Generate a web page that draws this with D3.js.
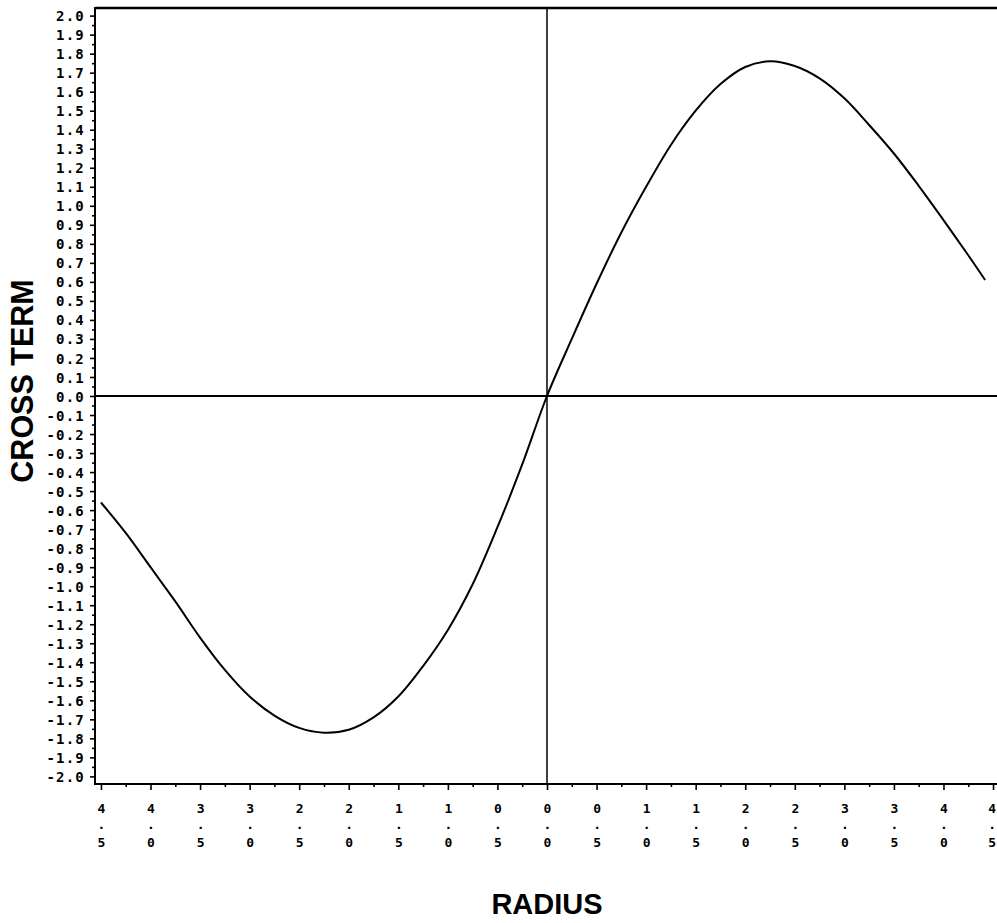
<!DOCTYPE html>
<html>
<head>
<meta charset="utf-8">
<script src="https://cdn.jsdelivr.net/npm/d3@7/dist/d3.min.js"></script>
<style>
  body { margin: 0; background: #fff; }
  .tick text { font-family: "DejaVu Sans Mono", monospace; font-weight: bold; font-size: 14px; fill: #000; }
  .axisTitle { font-family: "Liberation Sans", Arial, sans-serif; font-weight: bold; fill: #000; }
</style>
</head>
<body>
<div class="chart"></div>
<script>
var svgWidth = 997;
var svgHeight = 923;

// curve
var radius = [-4.50, -4.25, -4.00, -3.75, -3.50, -3.25, -3.00, -2.75, -2.50, -2.25,
  -2.00, -1.75, -1.50, -1.25, -1.00, -0.75, -0.50, -0.25, 0.00, 0.25, 0.50, 0.75,
  1.00, 1.25, 1.50, 1.75, 2.00, 2.25, 2.50, 2.75, 3.00, 3.25, 3.50, 3.75, 4.00,
  4.25, 4.42];
var crossTerm = [-0.56, -0.72, -0.90, -1.08, -1.27, -1.44, -1.58, -1.68, -1.745, -1.77,
  -1.755, -1.69, -1.58, -1.42, -1.23, -0.99, -0.69, -0.36, 0.00, 0.30, 0.59, 0.86,
  1.10, 1.32, 1.50, 1.64, 1.73, 1.76, 1.735, 1.67, 1.565, 1.425, 1.275, 1.105, 0.925,
  0.74, 0.61];

var xTicks = [-4.5, -4.0, -3.5, -3.0, -2.5, -2.0, -1.5, -1.0, -0.5, 0.0,
  0.5, 1.0, 1.5, 2.0, 2.5, 3.0, 3.5, 4.0, 4.5];
var xTickLabels = ["4.5", "4.0", "3.5", "3.0", "2.5", "2.0", "1.5", "1.0", "0.5", "0.0",
  "0.5", "1.0", "1.5", "2.0", "2.5", "3.0", "3.5", "4.0", "4.5"];
var xMinorTicks = [-4.25, -3.75, -3.25, -2.75, -2.25, -1.75, -1.25, -0.75, -0.25,
  0.25, 0.75, 1.25, 1.75, 2.25, 2.75, 3.25, 3.75, 4.25];

var yTickLabels = ["2.0", "1.9", "1.8", "1.7", "1.6", "1.5", "1.4", "1.3", "1.2", "1.1",
  "1.0", "0.9", "0.8", "0.7", "0.6", "0.5", "0.4", "0.3", "0.2", "0.1", "0.0",
  "-0.1", "-0.2", "-0.3", "-0.4", "-0.5", "-0.6", "-0.7", "-0.8", "-0.9", "-1.0",
  "-1.1", "-1.2", "-1.3", "-1.4", "-1.5", "-1.6", "-1.7", "-1.8", "-1.9", "-2.0"];
var yTicks = yTickLabels.map(function(d) { return +d; });
var yMinorTicks = d3.range(-39, 40, 2).map(function(d) { return d / 20; });

var plot = { left: 95, right: 998, top: 8, bottom: 784 };

var svg = d3.select(".chart")
  .append("svg")
  .attr("width", svgWidth)
  .attr("height", svgHeight);

var xScale = d3.scaleLinear().domain([-4.56, 4.55]).range([plot.left, plot.right]);
var yScale = d3.scaleLinear().domain([-2.04, 2.04]).range([plot.bottom, plot.top]);

// y axis, major + minor ticks
var leftAxis = d3.axisLeft(yScale)
  .tickValues(yTicks)
  .tickSize(5)
  .tickPadding(5)
  .tickFormat(function(d, i) { return yTickLabels[i]; });

svg.append("g")
  .attr("transform", "translate(" + plot.left + ",0)")
  .call(leftAxis)
  .call(function(g) { g.select(".domain").remove(); })
  .selectAll(".tick text")
    .attr("dy", "0.36em")
    .style("letter-spacing", "1.2px");

svg.append("g")
  .attr("transform", "translate(" + plot.left + ",0)")
  .call(d3.axisLeft(yScale).tickValues(yMinorTicks).tickSize(3).tickFormat(""))
  .call(function(g) { g.select(".domain").remove(); });

// x axis ticks
var bottomAxis = d3.axisBottom(xScale)
  .tickValues(xTicks)
  .tickSize(6)
  .tickFormat("");

var xAxisG = svg.append("g")
  .attr("transform", "translate(0," + plot.bottom + ")")
  .call(bottomAxis)
  .call(function(g) { g.select(".domain").remove(); });

svg.append("g")
  .attr("transform", "translate(0," + plot.bottom + ")")
  .call(d3.axisBottom(xScale).tickValues(xMinorTicks).tickSize(3).tickFormat(""))
  .call(function(g) { g.select(".domain").remove(); });

svg.selectAll(".tick line").attr("stroke", "#000").attr("stroke-width", 1.6);

// stacked tick labels: digit / dot / digit
xAxisG.selectAll(".tick").each(function(d, i) {
  var t = d3.select(this);
  var parts = xTickLabels[i].split("");
  var shift = i === xTickLabels.length - 1 ? -1.5 : 0;
  t.append("text").attr("y", 29).attr("x", shift).attr("text-anchor", "middle").style("font-size", "13px").text(parts[0]);
  t.append("text").attr("y", 45).attr("x", shift).attr("text-anchor", "middle").style("font-size", "13px").text(parts[1]);
  t.append("text").attr("y", 63).attr("x", shift).attr("text-anchor", "middle").style("font-size", "13px").text(parts[2]);
});

// frame and zero lines
svg.append("line")
  .attr("x1", plot.left).attr("x2", plot.right)
  .attr("y1", plot.top).attr("y2", plot.top)
  .attr("stroke", "#000").attr("stroke-width", 2.5);
svg.append("line")
  .attr("x1", plot.left).attr("x2", plot.left)
  .attr("y1", plot.top - 1).attr("y2", plot.bottom + 1)
  .attr("stroke", "#000").attr("stroke-width", 2);
svg.append("line")
  .attr("x1", plot.left).attr("x2", plot.right)
  .attr("y1", plot.bottom).attr("y2", plot.bottom)
  .attr("stroke", "#000").attr("stroke-width", 2);
svg.append("line")
  .attr("x1", plot.left).attr("x2", plot.right)
  .attr("y1", yScale(0)).attr("y2", yScale(0))
  .attr("stroke", "#000").attr("stroke-width", 2);
svg.append("line")
  .attr("x1", xScale(0)).attr("x2", xScale(0))
  .attr("y1", plot.top).attr("y2", plot.bottom)
  .attr("stroke", "#000").attr("stroke-width", 1.5);

// the curve
var points = radius.map(function(r, i) { return [r, crossTerm[i]]; });
var line = d3.line()
  .x(function(d) { return xScale(d[0]); })
  .y(function(d) { return yScale(d[1]); })
  .curve(d3.curveCatmullRom.alpha(0.5));

svg.append("path")
  .datum(points)
  .attr("d", line)
  .attr("fill", "none")
  .attr("stroke", "#000")
  .attr("stroke-width", 2);

// axis titles
svg.append("text")
  .attr("class", "axisTitle")
  .attr("transform", "translate(33,381) rotate(-90)")
  .attr("text-anchor", "middle")
  .style("font-size", "30.5px")
  .text("CROSS TERM");

svg.append("text")
  .attr("class", "axisTitle")
  .attr("x", xScale(0))
  .attr("y", 914)
  .attr("text-anchor", "middle")
  .style("font-size", "29px")
  .text("RADIUS");
</script>
</body>
</html>
